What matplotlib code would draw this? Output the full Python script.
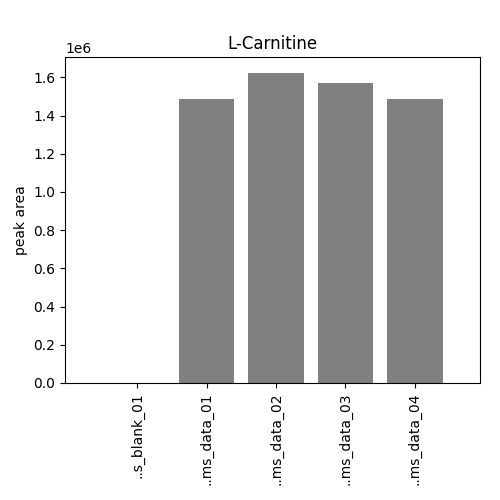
import matplotlib
matplotlib.use("Agg")
import matplotlib.pyplot as plt

samples = ["..s_blank_01", "..ms_data_01", "..ms_data_02", "..ms_data_03", "..ms_data_04"]
areas = [0.0, 1.485e6, 1.625e6, 1.572e6, 1.485e6]

fig, ax = plt.subplots(figsize=(5, 5), dpi=100)
ax.bar(range(len(samples)), areas, color="grey")
ax.set_xticks(range(len(samples)))
ax.set_xticklabels(samples, rotation=90)
ax.set_xlim(-1.04, 4.94)
ax.set_ylabel("peak area")
ax.set_title("L-Carnitine")
plt.subplots_adjust(left=0.13, right=0.96, top=0.886, bottom=0.234)
plt.savefig("out.png")
